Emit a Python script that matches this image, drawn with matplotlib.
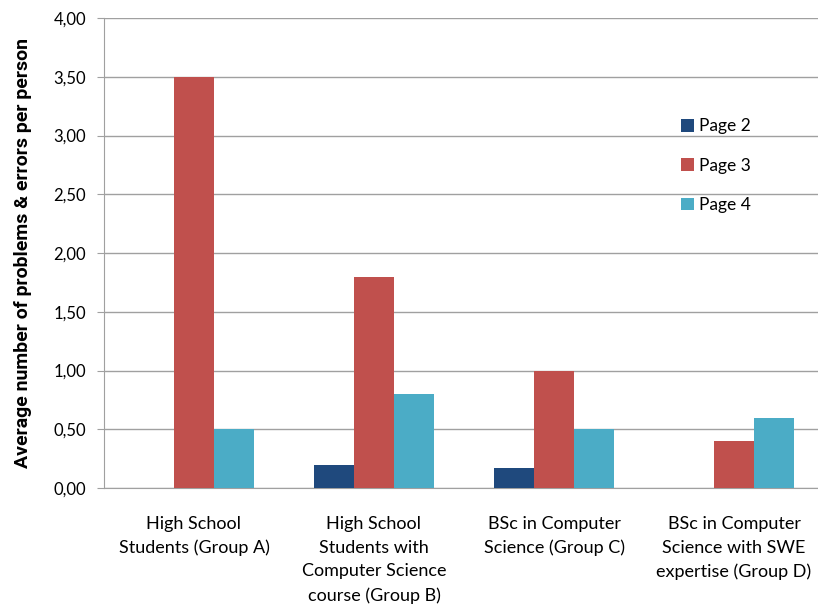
import numpy as np
import matplotlib.pyplot as plt
from matplotlib.ticker import FuncFormatter

groups = ['High School\nStudents (Group A)',
          'High School\nStudents with\nComputer Science\ncourse (Group B)',
          'BSc in Computer\nScience (Group C)',
          'BSc in Computer\nScience with SWE\nexpertise (Group D)']
series = ['Page 2', 'Page 3', 'Page 4']
page2 = [0.0, 0.2, 0.17, 0.0]
page3 = [3.5, 1.8, 1.0, 0.4]
page4 = [0.5, 0.8, 0.5, 0.6]
colors = ['#1F497D', '#C0504D', '#4BACC6']

plt.rcParams['font.family'] = ['Lato', 'DejaVu Sans']
fig = plt.figure(figsize=(8.18, 6.10), dpi=100)
ax = fig.add_axes([104/818, 1-488/610, 720/818, 470/610])

x = np.arange(len(groups))
w = 0.222
for i, (vals, name) in enumerate(zip([page2, page3, page4], series)):
    ax.bar(x + (i-1)*w, vals, w, color=colors[i], label=name, zorder=3)

ax.set_xlim(-0.5, 3.5)
ax.set_ylim(0, 4)
ax.set_yticks(np.arange(0, 4.01, 0.5))
ax.yaxis.set_major_formatter(FuncFormatter(lambda v, p: f'{v:.2f}'.replace('.', ',')))
ax.grid(axis='y', color='#A0A0A0', lw=1, zorder=0)
for s in ['top', 'right']:
    ax.spines[s].set_visible(False)
ax.spines['left'].set_color('#A0A0A0')
ax.spines['bottom'].set_color('#A0A0A0')
ax.tick_params(axis='y', length=5, color='#A0A0A0', labelsize=12, pad=8)
ax.tick_params(axis='x', length=0, labelsize=13, pad=20)
ax.set_xticks(x)
ax.set_xticklabels(groups, va='top', linespacing=1.6)
ax.set_ylabel('Average number of problems & errors per person',
              family=['Roboto', 'DejaVu Sans'],
              fontsize=14, fontweight='bold', labelpad=15)
ax.legend(frameon=False, loc='upper left', bbox_to_anchor=(0.78, 0.82),
          fontsize=12.5, handlelength=0.75, handleheight=0.75, labelspacing=1.35,
          handletextpad=0.3)

plt.savefig('out.png', dpi=100)
